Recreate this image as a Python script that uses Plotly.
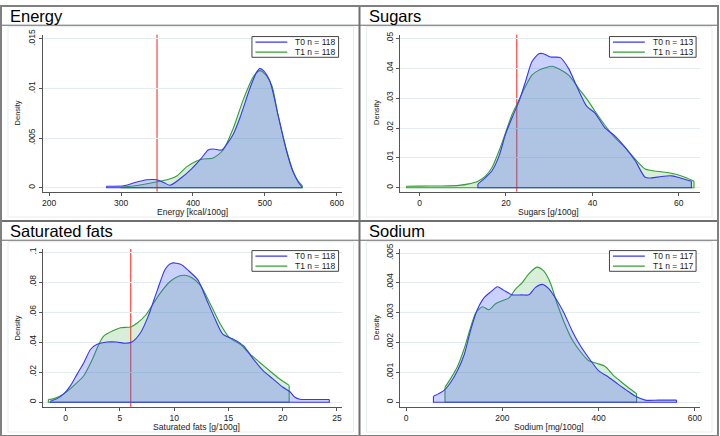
import plotly.graph_objects as go

W, H = 720, 436

# ---------------- data ----------------
titles = ["Energy", "Sugars", "Saturated fats", "Sodium"]
x_titles = ["Energy [kcal/100g]", "Sugars [g/100g]", "Saturated fats [g/100g]", "Sodium [mg/100g]"]
n_t0 = [118, 113, 118, 117]
n_t1 = [118, 113, 118, 117]
ref_lines = [350, 22.5, 6, None]

energy_t0_x = [280, 304, 318, 336, 350, 360, 368, 382, 398, 412, 421, 428, 440, 447, 456, 465, 479, 488, 493, 498, 507, 518, 530, 539, 546, 551]
energy_t0_y = [0.00015, 0.0002, 0.0005, 0.0008, 0.0008, 0.0005, 0.00025, 0.0009, 0.0019, 0.0030, 0.0038, 0.0039, 0.0038, 0.0044, 0.0054, 0.0070, 0.0100, 0.0116, 0.0120, 0.0118, 0.0107, 0.0074, 0.0037, 0.0016, 0.0006, 0.0001]
energy_t1_x = [300, 320, 336, 350, 364, 378, 391, 405, 414, 428, 442, 456, 470, 484, 493, 502, 510, 518, 530, 539, 546, 552]
energy_t1_y = [0.00005, 0.0002, 0.0004, 0.0006, 0.0008, 0.0012, 0.0021, 0.0027, 0.0029, 0.0030, 0.0038, 0.0060, 0.0089, 0.0112, 0.0118, 0.0113, 0.0102, 0.0074, 0.0038, 0.0017, 0.0007, 0.0002]

sugars_t0_x = [13.5, 15.3, 16.8, 18.4, 19.9, 21.4, 23.0, 24.5, 26.0, 27.6, 28.7, 30.3, 32.6, 34.5, 36.4, 38.7, 40.6, 42.9, 45.2, 47.6, 49.9, 52.2, 53.7, 56.0, 58.3, 59.8, 61.5, 62.9]
sugars_t0_y = [0.0013, 0.0035, 0.0058, 0.0107, 0.0180, 0.0235, 0.0290, 0.0356, 0.0423, 0.0450, 0.0450, 0.0439, 0.0437, 0.0400, 0.0340, 0.0273, 0.0251, 0.0201, 0.0174, 0.0135, 0.0091, 0.0035, 0.0033, 0.0038, 0.0040, 0.0035, 0.0028, 0.0022]
sugars_t1_x = [-3.0, 0.0, 5.0, 9.1, 11.4, 13.5, 15.3, 16.8, 18.4, 19.9, 21.4, 23.0, 24.5, 26.0, 27.6, 29.1, 30.7, 32.2, 34.5, 36.8, 39.1, 40.6, 42.9, 45.2, 47.6, 49.9, 52.2, 53.7, 56.8, 59.1, 61.4, 63.5]
sugars_t1_y = [0.0005, 0.00055, 0.0006, 0.0008, 0.0013, 0.0022, 0.0040, 0.0069, 0.0124, 0.0185, 0.0246, 0.0295, 0.0340, 0.0378, 0.0395, 0.0403, 0.0408, 0.0400, 0.0378, 0.0334, 0.0290, 0.0257, 0.0210, 0.0168, 0.0135, 0.0096, 0.0063, 0.0058, 0.0052, 0.0046, 0.0035, 0.0022]

satfat_t0_x = [-1.4, -0.8, -0.15, 0.46, 1.07, 1.68, 2.3, 2.9, 3.8, 4.7, 5.5, 6.1, 6.9, 7.6, 8.4, 9.2, 9.8, 10.6, 11.3, 12.2, 13.0, 13.8, 14.5, 15.5, 16.4, 17.3, 18.2, 19.1, 20.0, 20.7, 21.1, 21.6, 23.1, 24.3]
satfat_t0_y = [0.0007, 0.0024, 0.0057, 0.0112, 0.0189, 0.0265, 0.0353, 0.0386, 0.0401, 0.0401, 0.0393, 0.0401, 0.0463, 0.0572, 0.0737, 0.0890, 0.0928, 0.0919, 0.0879, 0.0814, 0.0682, 0.0550, 0.0452, 0.0419, 0.0375, 0.0287, 0.0210, 0.0156, 0.0101, 0.0068, 0.0035, 0.0020, 0.0018, 0.0018]
satfat_t1_x = [-1.6, -1.07, -0.15, 0.77, 1.68, 2.4, 3.06, 3.5, 4.3, 5.05, 6.0, 6.6, 7.4, 8.1, 8.7, 9.6, 10.4, 11.0, 11.6, 12.4, 13.3, 14.2, 15.1, 16.1, 17.0, 17.9, 18.8, 19.7, 20.6]
satfat_t1_y = [0.0018, 0.0024, 0.0057, 0.0112, 0.0178, 0.0276, 0.0386, 0.0440, 0.0474, 0.0496, 0.0502, 0.0528, 0.0583, 0.0660, 0.0726, 0.0803, 0.0840, 0.0846, 0.0831, 0.0780, 0.0660, 0.0528, 0.0430, 0.0386, 0.0320, 0.0265, 0.0210, 0.0156, 0.0112]

sodium_t0_x = [57, 79, 93, 107, 121, 134, 148, 162, 176, 190, 203, 221, 241, 255, 269, 283, 297, 314, 328, 345, 362, 379, 400, 421, 441, 462, 479, 497, 524, 562]
sodium_t0_y = [0.0002, 0.0004, 0.00067, 0.00106, 0.0016, 0.0024, 0.0031, 0.0035, 0.0037, 0.00387, 0.00375, 0.0036, 0.0036, 0.0036, 0.00385, 0.00395, 0.0038, 0.0034, 0.0030, 0.0024, 0.0019, 0.0015, 0.00106, 0.00084, 0.0006, 0.00036, 0.00018, 0.00007, 0.00007, 0.00007]
sodium_t1_x = [81, 93, 107, 121, 134, 145, 159, 172, 186, 200, 214, 228, 241, 255, 272, 286, 300, 314, 328, 345, 362, 379, 397, 414, 431, 448, 465, 479]
sodium_t1_y = [0.0005, 0.0008, 0.0012, 0.0018, 0.0025, 0.0030, 0.0032, 0.0031, 0.0033, 0.0034, 0.0035, 0.0038, 0.0040, 0.0043, 0.00453, 0.0044, 0.0040, 0.0033, 0.0027, 0.0021, 0.0017, 0.0014, 0.0013, 0.0012, 0.0009, 0.00067, 0.00045, 0.00029]

x_tickvals = [[200, 300, 400, 500, 600], [0, 20, 40, 60], [0, 5, 10, 15, 20, 25], [0, 200, 400, 600]]
y_tickvals = [[0, 0.005, 0.01, 0.015], [0, 0.01, 0.02, 0.03, 0.04, 0.05],
              [0, 0.02, 0.04, 0.06, 0.08, 0.1], [0, 0.001, 0.002, 0.003, 0.004, 0.005]]
y_ticktext = [["0", ".005", ".01", ".015"], ["0", ".01", ".02", ".03", ".04", ".05"],
              ["0", ".02", ".04", ".06", ".08", ".1"], ["0", ".001", ".002", ".003", ".004", ".005"]]

curves = [
    (energy_t0_x, energy_t0_y, energy_t1_x, energy_t1_y),
    (sugars_t0_x, sugars_t0_y, sugars_t1_x, sugars_t1_y),
    (satfat_t0_x, satfat_t0_y, satfat_t1_x, satfat_t1_y),
    (sodium_t0_x, sodium_t0_y, sodium_t1_x, sodium_t1_y),
]

# ---------------- layout geometry (pixels) ----------------
plot_px = [  # x0, x1, ytop, ybottom
    (41.7, 342.3, 29, 188.3),
    (401, 702.3, 29, 188.3),
    (42.3, 342.3, 246.3, 406.3),
    (401, 701.7, 246.3, 406.3),
]
x_ranges = [[190.9, 606.9], [-4.45, 64.98], [-2.08, 25.46], [-11.8, 610.3]]
y_ranges = [[-0.0004, 0.01543], [-0.00133, 0.05143], [-0.003, 0.1022], [-0.00015, 0.00514]]
panel_origin = [(0, 0), (360, 0), (0, 218), (360, 218)]
xtitle_cx = [192.8, 549.7, 196.5, 550.7]
legend_box = [(252, 31), (611, 31), (252, 248), (611, 248)]

FONT = "Liberation Sans, Arial, sans-serif"
BLUE_LINE = "rgb(55,55,240)"
BLUE_FILL = "rgba(70,90,255,0.28)"
GREEN_LINE = "rgb(50,160,50)"
GREEN_FILL = "rgba(60,170,60,0.2)"
AXIS_COL = "#555555"
TXT = "#1a1a1a"


def px(x):
    return x / W


def py(y):
    return 1 - y / H


fig = go.Figure()
shapes = []
annotations = []

for i in range(4):
    sfx = "" if i == 0 else str(i + 1)
    xa, ya = "x" + sfx, "y" + sfx
    x0, x1, yt, yb = plot_px[i]
    t0x, t0y, t1x, t1y = curves[i]

    for cx, cy, lc, fc in ((t1x, t1y, GREEN_LINE, GREEN_FILL), (t0x, t0y, BLUE_LINE, BLUE_FILL)):
        # smooth density curve, filled down to zero
        fig.add_trace(go.Scatter(
            x=cx, y=cy, xaxis=xa, yaxis=ya, mode="lines", fill="tozeroy",
            fillcolor=fc, line=dict(color=lc, width=1.1, shape="spline", smoothing=0.7),
            showlegend=False, hoverinfo="skip"))
        # outline of the area: end edges and baseline
        fig.add_trace(go.Scatter(
            x=[cx[0], cx[0], cx[-1], cx[-1]], y=[cy[0], 0, 0, cy[-1]], xaxis=xa, yaxis=ya,
            mode="lines", line=dict(color=lc, width=1.1), showlegend=False, hoverinfo="skip"))

    fig.layout["xaxis" + sfx] = dict(
        domain=[px(x0), px(x1)], range=x_ranges[i], anchor=ya,
        showline=True, linecolor=AXIS_COL, linewidth=1, ticks="outside", ticklen=3,
        tickcolor=AXIS_COL, tickvals=x_tickvals[i], tickfont=dict(size=8.5, color=TXT, family=FONT),
        showgrid=False, zeroline=False, fixedrange=True)
    fig.layout["yaxis" + sfx] = dict(
        domain=[py(yb), py(yt)], range=y_ranges[i], anchor=xa,
        showline=True, linecolor=AXIS_COL, linewidth=1, ticks="outside", ticklen=3,
        tickcolor=AXIS_COL, tickvals=y_tickvals[i], ticktext=y_ticktext[i], tickangle=-90,
        tickfont=dict(size=8.5, color=TXT, family=FONT),
        showgrid=True, gridcolor="#e3edf0", gridwidth=1, zeroline=False, fixedrange=True)

    # reference line
    if ref_lines[i] is not None:
        shapes.append(dict(type="line", xref=xa, yref=ya + " domain", x0=ref_lines[i], x1=ref_lines[i],
                           y0=0, y1=1, line=dict(color="rgb(255,30,30)", width=1), layer="below"))

    ox, oy = panel_origin[i]
    # faint graph-region frame
    shapes.append(dict(type="rect", xref="paper", yref="paper", x0=px(ox + 7), x1=px(ox + 354),
                       y0=py(oy + 214), y1=py(oy + 21), line=dict(color="#e6eef0", width=1), layer="below"))
    # title band separator
    shapes.append(dict(type="line", xref="paper", yref="paper", x0=px(ox), x1=px(ox + 360),
                       y0=py(oy + 19.5), y1=py(oy + 19.5), line=dict(color="#666666", width=1)))
    # title
    annotations.append(dict(text=titles[i], xref="paper", yref="paper", x=px(ox + 7.5), y=py(oy + 10.5),
                            xanchor="left", yanchor="middle", showarrow=False,
                            font=dict(size=16.5, color="#000000", family=FONT)))
    # axis titles
    annotations.append(dict(text=x_titles[i], xref="paper", yref="paper", x=px(xtitle_cx[i]), y=py(oy + 209),
                            xanchor="center", yanchor="middle", showarrow=False,
                            font=dict(size=8.6, color=TXT, family=FONT)))
    annotations.append(dict(text="Density", xref="paper", yref="paper", x=px(ox + 17), y=py(oy + 108),
                            xanchor="center", yanchor="middle", showarrow=False, textangle=-90,
                            font=dict(size=7.5, color=TXT, family=FONT)))
    # legend box
    lx, ly = legend_box[i]
    shapes.append(dict(type="rect", xref="paper", yref="paper", x0=px(lx), x1=px(lx + 87),
                       y0=py(ly + 21), y1=py(ly), fillcolor="white", line=dict(color="#444444", width=1)))
    for k, (lab, col) in enumerate(((f"T0 n = {n_t0[i]}", BLUE_LINE), (f"T1 n = {n_t1[i]}", GREEN_LINE))):
        yy = ly + 5.7 + 10 * k
        shapes.append(dict(type="line", xref="paper", yref="paper", x0=px(lx + 3.5), x1=px(lx + 35.5),
                           y0=py(yy), y1=py(yy), line=dict(color=col, width=1.3)))
        annotations.append(dict(text=lab, xref="paper", yref="paper", x=px(lx + 41.5), y=py(yy),
                                xanchor="left", yanchor="middle", showarrow=False,
                                font=dict(size=8.5, color=TXT, family=FONT)))

# panel dividers and outer border
shapes.append(dict(type="line", xref="paper", yref="paper", x0=px(360), x1=px(360), y0=0, y1=1,
                   line=dict(color="#707070", width=2)))
shapes.append(dict(type="line", xref="paper", yref="paper", x0=0, x1=1, y0=py(218), y1=py(218),
                   line=dict(color="#707070", width=2)))
shapes.append(dict(type="rect", xref="paper", yref="paper", x0=0, x1=1, y0=0, y1=1,
                   line=dict(color="#808080", width=2)))

fig.update_layout(
    width=W, height=H, margin=dict(l=0, r=0, t=0, b=0),
    paper_bgcolor="white", plot_bgcolor="white",
    font=dict(family=FONT, color=TXT),
    shapes=shapes, annotations=annotations, showlegend=False,
)

fig.write_html("out.html", config={"displayModeBar": False, "staticPlot": True},
               post_script="document.body.style.margin='0';document.body.style.padding='0';")
